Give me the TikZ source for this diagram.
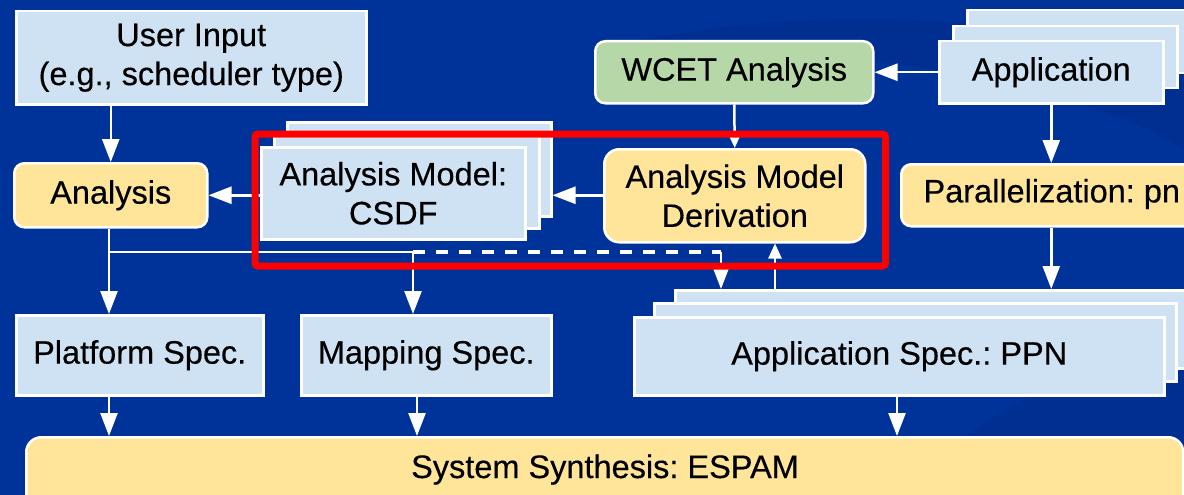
\documentclass[tikz,border=0pt]{standalone}
\usepackage{fontspec}
\setmainfont{Liberation Sans}
\newfontfamily\dfont{Liberation Sans}[FakeBold=0.35]
\usetikzlibrary{arrows.meta}
\definecolor{bgblue}{RGB}{0,51,153}
\definecolor{bgdark}{RGB}{0,44,138}
\definecolor{lblue}{RGB}{207,226,243}
\definecolor{lyellow}{RGB}{255,229,153}
\definecolor{lgreen}{RGB}{182,215,168}
\tikzset{
  txt/.style={text=black, font=\dfont\fontsize{32.5}{39}\selectfont\frenchspacing},
  box/.style={draw=white, line width=2.5pt, fill=lblue, anchor=north west, inner sep=0pt,
    align=center, txt},
  ybox/.style={box, fill=lyellow, rounded corners=10pt},
  gbox/.style={box, fill=lgreen, rounded corners=10pt},
  arr/.style={draw=white, line width=2.5pt, -{Triangle[length=23pt,width=17pt]}},
  sarr/.style={draw=white, line width=2.5pt, -{Triangle[length=15pt,width=13pt]}},
  wline/.style={draw=white, line width=2.5pt},
}
\begin{document}
\begin{tikzpicture}[x=1pt,y=-1pt]
\fill[bgblue] (0,0) rectangle (1184,495);
\useasboundingbox (0,0) rectangle (1184,495);
\begin{scope}
\clip (0,0) rectangle (1184,495);
% faint background swooshes
\fill[bgdark, opacity=0.5] (640,40) .. controls (850,0) and (1050,20) .. (1184,70) -- (1184,150) .. controls (1120,110) and (1000,60) .. (640,40) -- cycle;
\fill[bgdark, opacity=0.45] (880,495) .. controls (980,420) and (1080,360) .. (1184,330) -- (1184,495) -- cycle;
% top row
\node[box, minimum width=350pt, minimum height=93pt] (user) at (15,10) {User Input\\(e.g., scheduler type)};
\node[gbox, minimum width=278pt, minimum height=62pt] (wcet) at (594,40) {WCET Analysis};
\node[box, minimum width=224pt, minimum height=63pt] (appb) at (966,9) {};
\node[box, minimum width=224pt, minimum height=62pt] (appm) at (952,25) {};
\node[box, minimum width=224pt, minimum height=62pt] (app) at (938,40) {Application};
% middle row
\node[ybox, minimum width=193pt, minimum height=64pt] (ana) at (13,162) {Analysis};
\node[box, minimum width=264pt, minimum height=94pt] (csdfb) at (286,121) {};
\node[box, minimum width=265pt, minimum height=92pt] (csdfm) at (273,135) {};
\node[box, minimum width=264pt, minimum height=92pt] (csdf) at (260,146) {Analysis Model:\\CSDF};
\node[ybox, rounded corners=15pt, minimum width=261pt, minimum height=93pt] (deriv) at (603,148) {Analysis Model\\Derivation};
\node[ybox, minimum width=310pt, minimum height=62pt] (par) at (900,163) {};
\node[txt, anchor=west] (partxt) at (920,194) {Parallelization: pn};
% lower row
\node[box, minimum width=247pt, minimum height=80pt] (plat) at (15,314) {Platform Spec.};
\node[box, minimum width=250pt, minimum height=80pt] (map) at (300,314) {Mapping Spec.};
\node[box, minimum width=522pt, minimum height=78pt] (aspb) at (674,289) {};
\node[box, minimum width=522pt, minimum height=78pt] (aspm) at (653,302) {};
\node[box, minimum width=530pt, minimum height=78pt] (asp) at (633,316) {Application Spec.: PPN};
\node[ybox, rounded corners=15pt, minimum width=1157pt, minimum height=90pt] (sys) at (25,436) {};
\node[txt, anchor=base] (systxt) at (605,478) {System Synthesis: ESPAM};
% junction coordinates
\coordinate (j1) at (109,252);
\coordinate (j2) at (413,252);
\coordinate (j3) at (721,252);
\coordinate (up) at (775,0);
% connectors
\draw[arr] (ana.north |- user.south) -- (ana.north);
\draw[arr] (csdf.west |- ana.east) -- (ana.east);
\draw[arr] (deriv.west |- ana.east) -- (csdfb.east |- ana.east);
\draw[arr] (app.west |- wcet.east) -- (wcet.east);
\draw[sarr] (wcet.south) -- (deriv.north);
\draw[arr] (app.south) -- (app.south |- par.north);
\draw[arr] (app.south |- par.south) -- (app.south |- aspb.north);
\draw[wline] (j1 |- ana.south) -- (j1) -- (j2);
\draw[arr] (j1) -- (j1 |- plat.north);
\draw[arr] (j2) -- (j2 |- map.north);
\draw[wline, line width=3.5pt, dash pattern=on 12pt off 11pt] (j2) -- (j3);
\draw[arr] (j3) -- (j3 |- aspb.north);
\draw[sarr] (up |- aspb.north) -- (up |- deriv.south);
\draw[arr] (j1 |- plat.south) -- (j1 |- sys.north);
\draw[arr] (map.south -| 417,0) -- (sys.north -| 417,0);
\draw[arr] (asp.south -| 897,0) -- (sys.north -| 897,0);
% highlight
\node[draw=red, line width=7pt, rounded corners=3pt, minimum width=630.5pt, minimum height=132pt, anchor=north west, inner sep=0pt] (hl) at (251.5,130.5) {};
\end{scope}
\end{tikzpicture}
\end{document}
